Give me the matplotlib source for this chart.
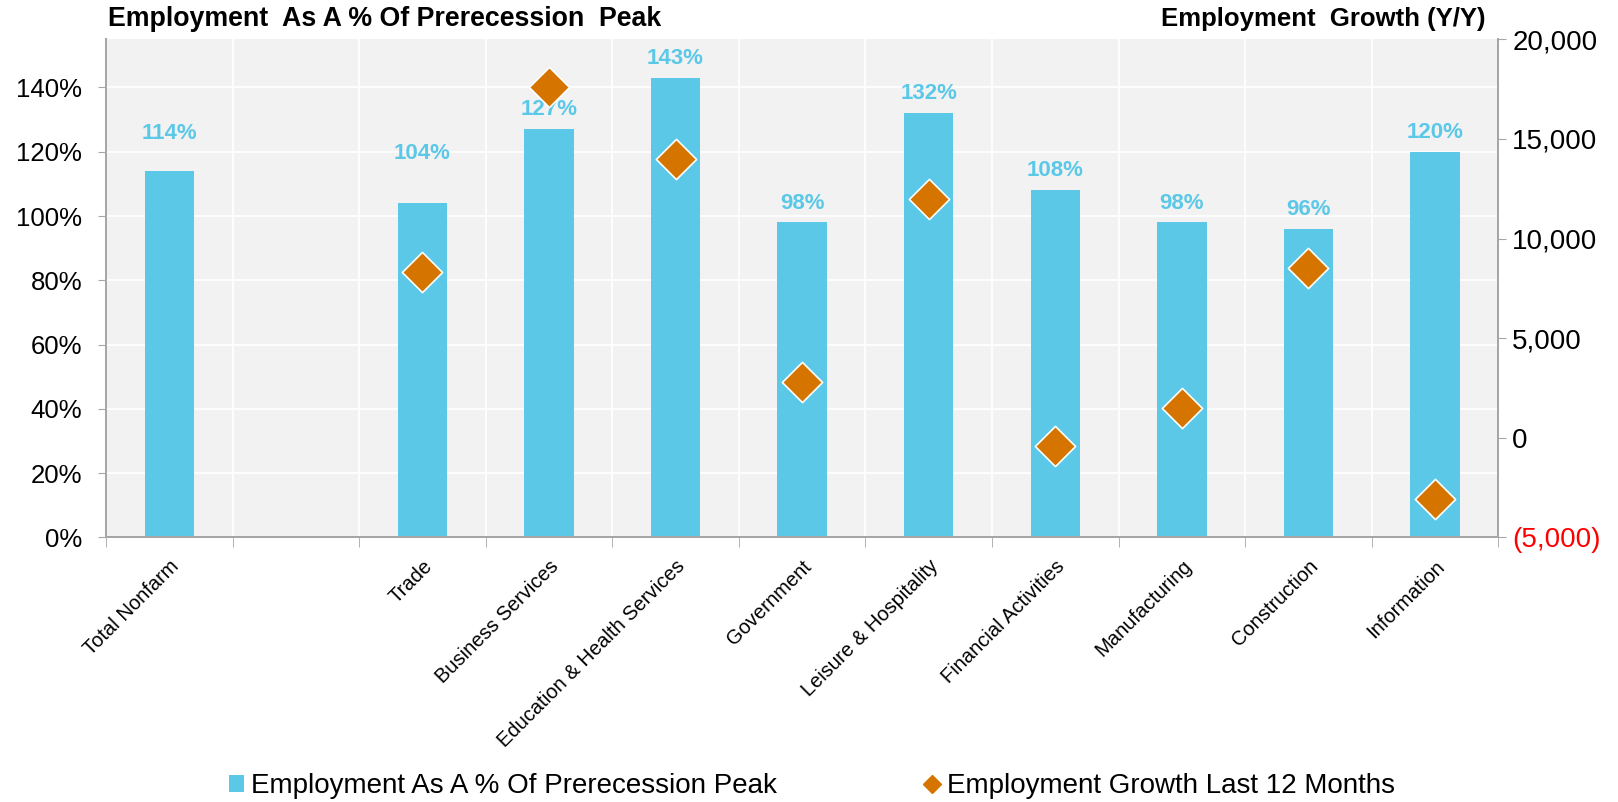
import matplotlib.pyplot as plt
import numpy as np
from matplotlib.lines import Line2D
from matplotlib.patches import Patch
from matplotlib.ticker import FuncFormatter, MultipleLocator

plt.rcParams["font.family"] = ["Liberation Sans", "DejaVu Sans"]

# sectors, with an empty slot after Total Nonfarm
sectors = ["Total Nonfarm", "", "Trade", "Business Services",
           "Education & Health Services", "Government", "Leisure & Hospitality",
           "Financial Activities", "Manufacturing", "Construction", "Information"]
pct_of_peak = [114, None, 104, 127, 143, 98, 132, 108, 98, 96, 120]
growth_12m = [None, None, 8300, 17600, 14000, 2800, 12000, -400, 1500, 8500, -3100]

BAR_COLOR = "#5BC8E8"
DIAMOND_COLOR = "#D57500"
GRID_GRAY = "#A6A6A6"

# some labels sit higher than the rest
label_nudge = {"Total Nonfarm": 27, "Trade": 36}


def growth_fmt(v, pos):
    if v < 0:
        return f"({abs(v):,.0f})"
    return f"{v:,.0f}"


def main():
    xs = np.arange(len(sectors))
    pct = np.array([np.nan if v is None else v for v in pct_of_peak], dtype=float)
    growth = np.array([np.nan if v is None else v for v in growth_12m], dtype=float)

    fig = plt.figure(figsize=(16.18, 8.02), dpi=100)
    ax = fig.add_axes([0.0655, 0.330, 0.8605, 0.621])
    ax2 = ax.twinx()

    ax.set_facecolor("#F2F2F2")
    ax.bar(xs, pct, width=0.39, color=BAR_COLOR, zorder=2)

    for x, v, name in zip(xs, pct, sectors):
        if np.isnan(v):
            continue
        ax.annotate(f"{v:.0f}%", (x, v), xytext=(0, label_nudge.get(name, 14)),
                    textcoords="offset points", ha="center", va="center",
                    color=BAR_COLOR, fontsize=16, fontweight="bold", zorder=4)

    ax2.scatter(xs, growth, marker="D", s=420, color=DIAMOND_COLOR,
                edgecolor="white", linewidth=1.2, zorder=5)

    ax.set_xlim(-0.5, len(sectors) - 0.5)
    ax.set_ylim(0, 155)
    ax2.set_ylim(-5000, 20000)

    # left axis
    ax.yaxis.set_major_locator(MultipleLocator(20))
    ax.yaxis.set_major_formatter(FuncFormatter(lambda v, p: f"{v:.0f}%"))
    ax.tick_params(axis="y", labelsize=18.5, color=GRID_GRAY, length=6, pad=11)

    # x axis: labels at centres, ticks on the slot edges
    ax.set_xticks(xs)
    ax.set_xticklabels(sectors, rotation=45, ha="right", rotation_mode="anchor",
                       fontsize=14.5)
    ax.tick_params(axis="x", which="major", length=0, pad=14)
    ax.set_xticks(np.arange(-0.5, len(sectors)), minor=True)
    ax.tick_params(axis="x", which="minor", length=7, color=GRID_GRAY)

    ax.grid(axis="y", color="white", linewidth=1.3, zorder=0)
    ax.grid(axis="x", which="minor", color="white", linewidth=1.3, zorder=0)
    ax.set_axisbelow(True)

    # right axis
    ax2.yaxis.set_major_locator(MultipleLocator(5000))
    ax2.yaxis.set_major_formatter(FuncFormatter(growth_fmt))
    ax2.tick_params(axis="y", labelsize=20, color=GRID_GRAY, length=6, pad=4)
    for lbl, val in zip(ax2.get_yticklabels(), ax2.get_yticks()):
        if val < 0:
            lbl.set_color("red")

    for a in (ax, ax2):
        a.spines["top"].set_visible(False)
        for side in ("left", "right", "bottom"):
            a.spines[side].set_color(GRID_GRAY)
            a.spines[side].set_linewidth(1.3)

    fig.text(0.067, 0.976, "Employment  As A % Of Prerecession  Peak",
             fontsize=19.3, fontweight="bold", ha="left", va="center")
    fig.text(0.918, 0.976, "Employment  Growth (Y/Y)",
             fontsize=18.5, fontweight="bold", ha="right", va="center")

    handles = [
        Patch(facecolor=BAR_COLOR, edgecolor="none"),
        Line2D([], [], marker="D", linestyle="none", color=DIAMOND_COLOR,
               markersize=9),
    ]
    fig.legend(handles, ["Employment As A % Of Prerecession Peak",
                         "Employment Growth Last 12 Months"],
               loc="center left", bbox_to_anchor=(0.1415, 0.02), ncol=2,
               frameon=False, fontsize=20, columnspacing=5.3,
               handlelength=0.55, handleheight=0.55, handletextpad=0.25,
               borderpad=0, borderaxespad=0)

    fig.savefig("out.png", dpi=100)


if __name__ == "__main__":
    main()
